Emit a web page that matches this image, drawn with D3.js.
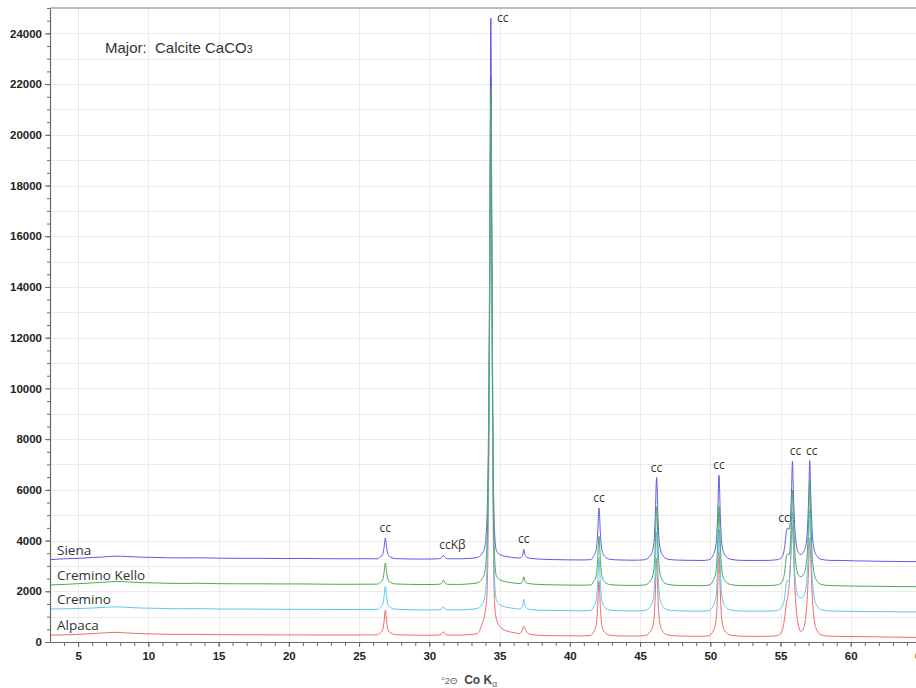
<!DOCTYPE html>
<html>
<head>
<meta charset="utf-8">
<script src="https://cdn.jsdelivr.net/npm/d3@7"></script>
<style>
  html, body { margin: 0; padding: 0; background: #fff; }
  svg { display: block; }
</style>
</head>
<body>
<svg id="chart" width="916" height="688"></svg>
<script>
// Diffraction angle (°2θ, Co Kα) shared by all four patterns, grouped by region.
const twoTheta = [
  3, 4, 5, 6, 7, 7.7, 8.5, 9.5, 10.5, 12, 13.5, 15, 16.5, 18, 19.5, 21, 22.5, 24, 25.5, 26.3,
  26.47, 26.67, 26.77, 26.87, 26.97, 27.07, 27.27, 27.6,
  28.5, 29.5, 30.4,
  30.75, 30.9, 31.0, 31.1, 31.3,
  32.0, 32.8, 33.4,
  33.75, 33.95, 34.1, 34.22, 34.31, 34.38, 34.45, 34.53, 34.64, 34.78, 35.1, 35.6, 36.1,
  36.45, 36.6, 36.67, 36.72, 36.78, 36.88, 37.1,
  37.8, 38.8, 39.8, 40.8, 41.5,
  41.68, 41.88, 41.98, 42.08, 42.18, 42.28, 42.48, 42.85,
  43.5, 44.5, 45.3,
  45.78, 45.98, 46.08, 46.18, 46.28, 46.38, 46.58, 46.95,
  47.6, 48.5, 49.4, 49.9,
  50.22, 50.42, 50.52, 50.62, 50.72, 50.82, 51.02, 51.45,
  52.2, 53.2, 54.2, 54.8,
  55.1, 55.28, 55.42, 55.52, 55.62, 55.72, 55.79, 55.85, 55.91, 56.0, 56.12, 56.3,
  56.45, 56.62, 56.8, 56.93, 57.01, 57.08, 57.15, 57.24, 57.38, 57.6, 57.9,
  58.5, 59.3, 60.2, 61.0, 61.8, 62.6, 63.4, 64.2, 65
];

// Counts (patterns are stacked with their own offsets).
const siena = [
  3250, 3280, 3300, 3330, 3360, 3385, 3370, 3345, 3335, 3315, 3320, 3305, 3300, 3300, 3290, 3295, 3285, 3280, 3285, 3280,
  3337, 3444, 3690, 4100, 3690, 3444, 3337, 3290,
  3275, 3270, 3275,
  3290, 3340, 3420, 3345, 3285,
  3280, 3295, 3330,
  3480, 3750, 4800, 8800, 16500, 24600, 16500, 8500, 4400, 3600, 3430, 3360, 3320,
  3315, 3370, 3500, 3660, 3500, 3370, 3310,
  3270, 3250, 3240, 3235, 3250,
  3373, 3640, 4255, 5280, 4255, 3640, 3373, 3260,
  3235, 3225, 3240,
  3448, 3872, 4850, 6480, 4850, 3872, 3448, 3270,
  3230, 3220, 3215, 3240,
  3446, 3884, 4895, 6580, 4895, 3884, 3446, 3260,
  3220, 3215, 3220, 3250,
  3350, 3700, 4350, 4500, 4450, 5000, 6100, 7130, 6000, 4700, 3850, 3500,
  3450, 3530, 3800, 4600, 5800, 7150, 5800, 4500, 3700, 3380, 3260,
  3220, 3215, 3200, 3195, 3185, 3180, 3175, 3170, 3170
];
const creminoKello = [
  2250, 2270, 2300, 2330, 2365, 2385, 2370, 2340, 2330, 2310, 2315, 2300, 2295, 2295, 2290, 2290, 2280, 2275, 2280, 2280,
  2338, 2446, 2695, 3110, 2695, 2446, 2338, 2290,
  2275, 2265, 2270,
  2280, 2340, 2440, 2345, 2275,
  2270, 2290, 2330,
  2480, 2760, 3800, 7800, 15000, 21700, 15000, 7500, 3400, 2600, 2430, 2360, 2320,
  2305, 2350, 2450, 2575, 2450, 2350, 2300,
  2270, 2255, 2245, 2240, 2250,
  2371, 2624, 3208, 4180, 3208, 2624, 2371, 2265,
  2240, 2230, 2245,
  2442, 2846, 3778, 5330, 3778, 2846, 2442, 2275,
  2235, 2225, 2220, 2245,
  2435, 2844, 3788, 5360, 3788, 2844, 2435, 2265,
  2225, 2220, 2225, 2255,
  2350, 2700, 3350, 3470, 3450, 4100, 5000, 5990, 5000, 3800, 2950, 2620,
  2575, 2650, 2950, 3750, 5000, 6320, 5000, 3600, 2750, 2400, 2270,
  2225, 2215, 2205, 2200, 2195, 2190, 2185, 2185, 2180
];
const cremino = [
  1300, 1310, 1320, 1340, 1370, 1385, 1365, 1340, 1330, 1310, 1315, 1300, 1300, 1295, 1290, 1290, 1285, 1280, 1285, 1285,
  1349, 1469, 1745, 2205, 1745, 1469, 1349, 1295,
  1275, 1265, 1265,
  1275, 1320, 1390, 1320, 1270,
  1265, 1285, 1320,
  1480, 1780, 2850, 6900, 14500, 21200, 14500, 6700, 2500, 1650, 1440, 1360, 1320,
  1300, 1365, 1510, 1695, 1510, 1365, 1290,
  1255, 1245, 1235, 1230, 1245,
  1377, 1650, 2280, 3330, 2280, 1650, 1377, 1260,
  1235, 1225, 1240,
  1438, 1842, 2775, 4330, 2775, 1842, 1438, 1270,
  1230, 1220, 1215, 1240,
  1437, 1858, 2830, 4450, 2830, 1858, 1437, 1260,
  1220, 1215, 1220, 1250,
  1370, 1700, 2330, 2440, 2400, 3200, 4150, 5100, 4100, 2900, 2100, 1780,
  1735, 1800, 2100, 2900, 4000, 5200, 4000, 2700, 1800, 1420, 1270,
  1225, 1215, 1205, 1200, 1200, 1195, 1190, 1190, 1190
];
const alpaca = [
  270, 280, 300, 330, 365, 380, 355, 330, 315, 300, 300, 290, 285, 285, 280, 280, 275, 275, 280, 280,
  349, 476, 770, 1260, 770, 476, 349, 290,
  275, 265, 270,
  280, 330, 405, 330, 275,
  270, 290, 330,
  700, 1100, 1800, 6200, 14500, 22300, 14500, 6000, 1600, 900, 560, 420, 360,
  330, 440, 560, 630, 560, 440, 320,
  265, 250, 245, 240, 260,
  387, 668, 1318, 2400, 1318, 668, 387, 270,
  240, 235, 250,
  446, 846, 1770, 3310, 1770, 846, 446, 280,
  240, 230, 225, 250,
  454, 888, 1890, 3560, 1890, 888, 454, 270,
  230, 220, 225, 260,
  420, 900, 1550, 1800, 2300, 3300, 4100, 4610, 3900, 2400, 1300, 600,
  420, 520, 1000, 2000, 3100, 4100, 3300, 2000, 950, 450, 280,
  230, 220, 215, 210, 205, 195, 190, 185, 180
];

const seriesNames = ["Siena", "Cremino Kello", "Cremino", "Alpaca"];
const seriesValues = [siena, creminoKello, cremino, alpaca];
const seriesColors = ["#5a5ae6", "#4aaa52", "#5cc8f0", "#f06a6a"];
// order in which the patterns are painted (last one ends up on top)
const drawOrder = [3, 0, 2, 1];

// Calcite reflections marked on the top (Siena) pattern: [label, °2θ, counts]
const peakLabels = [
  ["cc", 26.87, 4100], ["ccKβ", 31.0, 3420], ["cc", 34.38, 24600], ["cc", 36.72, 3660],
  ["cc", 42.08, 5280], ["cc", 46.18, 6480], ["cc", 50.62, 6580], ["cc", 55.47, 4500],
  ["cc", 55.85, 7130], ["cc", 57.08, 7150]
];

const xTicks = d3.range(5, 66, 5);
const yTicks = d3.range(0, 25000, 2000);

seriesValues.forEach((v, i) => {
  if (v.length !== twoTheta.length) console.error(seriesNames[i], v.length, twoTheta.length);
});

const svg = d3.select("#chart");
const plotLeft = 50, plotTop = 8, plotBottom = 642;

const x = d3.scaleLinear().domain([3, 65]).range([plotLeft, 921]);
const y = d3.scaleLinear().domain([0, 25000]).range([plotBottom, plotTop]);

svg.append("defs").append("clipPath").attr("id", "plot")
  .append("rect").attr("x", plotLeft).attr("y", plotTop)
  .attr("width", 871).attr("height", plotBottom - plotTop);

// grid
const grid = svg.append("g").attr("stroke", "#ebebeb").attr("stroke-width", 1);
grid.selectAll(".h").data(d3.range(1000, 25000, 1000)).join("line")
  .attr("x1", plotLeft).attr("x2", 916)
  .attr("y1", (d) => Math.round(y(d)) + 0.5).attr("y2", (d) => Math.round(y(d)) + 0.5);
grid.selectAll(".v").data(xTicks).join("line")
  .attr("y1", plotTop).attr("y2", plotBottom)
  .attr("x1", (d) => Math.round(x(d)) + 0.5).attr("x2", (d) => Math.round(x(d)) + 0.5);

// top frame line
svg.append("line").attr("x1", plotLeft).attr("x2", 916).attr("y1", plotTop).attr("y2", plotTop)
  .attr("stroke", "#a8a8a8").attr("stroke-width", 1.5);

// patterns
const line = d3.line()
  .x((d) => x(d[0]))
  .y((d) => y(d[1]))
  .curve(d3.curveMonotoneX);

const traces = svg.append("g").attr("clip-path", "url(#plot)");
drawOrder.forEach((i) => {
  traces.append("path")
    .datum(twoTheta.map((t, j) => [t, seriesValues[i][j]]))
    .attr("fill", "none")
    .attr("stroke", seriesColors[i])
    .attr("stroke-width", 1)
    .attr("stroke-linejoin", "round")
    .attr("d", line);
});

// axes
function styleAxis(g) {
  g.select(".domain").attr("stroke", "#6a6a6a").attr("stroke-width", 1.2);
  g.selectAll(".tick line").attr("stroke", "#6a6a6a");
  g.selectAll(".tick text")
    .attr("fill", "#222")
    .attr("font-family", "'Liberation Sans', Arial, sans-serif")
    .attr("font-size", 11.5)
    .attr("font-weight", "bold");
}

svg.append("g").attr("transform", `translate(0,${plotBottom})`)
  .call(d3.axisBottom(x).tickValues(d3.range(4, 66, 1)).tickSize(4).tickSizeOuter(0).tickFormat(""))
  .call(styleAxis);
svg.append("g").attr("transform", `translate(0,${plotBottom})`)
  .call(d3.axisBottom(x).tickValues(xTicks).tickSize(5).tickSizeOuter(0).tickPadding(5))
  .call(styleAxis)
  .call((g) => g.select(".domain").remove());

svg.append("g").attr("transform", `translate(${plotLeft},0)`)
  .call(d3.axisLeft(y).tickValues(d3.range(0, 25001, 500)).tickSize(3).tickSizeOuter(0).tickFormat(""))
  .call(styleAxis);
svg.append("g").attr("transform", `translate(${plotLeft},0)`)
  .call(d3.axisLeft(y).tickValues(yTicks).tickSize(5).tickSizeOuter(0).tickPadding(3).tickFormat(d3.format("d")))
  .call(styleAxis)
  .call((g) => g.select(".domain").remove());

// x axis title
const xt = svg.append("text").attr("x", 441).attr("y", 684)
  .attr("font-family", "'Liberation Sans', Arial, sans-serif").attr("fill", "#666");
xt.append("tspan").attr("font-size", 9.5).text("°2Θ");
xt.append("tspan").attr("font-size", 12).attr("font-weight", "bold").attr("fill", "#444").text("\u00a0 Co K");
xt.append("tspan").attr("font-size", 8.5).attr("dy", 3).text("α");

// heading
const hd = svg.append("text").attr("x", 105).attr("y", 53)
  .attr("font-family", "'Liberation Sans', Arial, sans-serif").attr("font-size", 15).attr("fill", "#333");
hd.append("tspan").text("Major:\u00a0\u00a0Calcite CaCO");
hd.append("tspan").attr("font-size", 10.5).text("3");

// series names at the left end of each pattern
svg.append("g")
  .attr("font-family", "'Open Sans', 'Noto Sans', sans-serif").attr("font-size", 13.5).attr("fill", "#333")
  .selectAll("text").data(seriesNames).join("text")
  .attr("x", 57)
  .attr("y", (d, i) => y(seriesValues[i][0]) - 5)
  .text((d) => d);

// peak labels
const nudge = { 1: [9, 0], 2: [12, 10], 7: [-3, 0], 8: [3, 0], 9: [2, 0] };
svg.append("g")
  .attr("font-family", "'Open Sans', 'Noto Sans', sans-serif").attr("font-size", 12).attr("fill", "#333")
  .attr("text-anchor", "middle")
  .selectAll("text").data(peakLabels).join("text")
  .attr("x", (d, i) => x(d[1]) + (nudge[i] ? nudge[i][0] : 0))
  .attr("y", (d, i) => y(d[2]) - 6 + (nudge[i] ? nudge[i][1] : 0))
  .text((d) => d[0]);
</script>
</body>
</html>
